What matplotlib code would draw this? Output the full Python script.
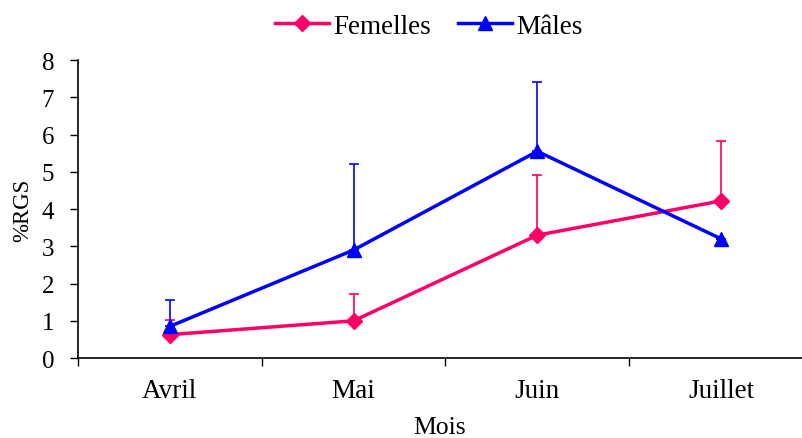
import numpy as np
import matplotlib
matplotlib.use('Agg')
import matplotlib.pyplot as plt

plt.rcParams['font.family'] = ['Liberation Serif', 'DejaVu Serif']

# Data
mois = ['Avril', 'Mai', 'Juin', 'Juillet']
femelles = [0.63, 1.0, 3.3, 4.22]
femelles_err = [0.4, 0.72, 1.62, 1.62]
males = [0.85, 2.9, 5.55, 3.2]
males_err = [0.7, 2.3, 1.85, 0.0]

pink = '#FF0066'
blue = '#0000FF'

fig = plt.figure(figsize=(8.02, 4.39), dpi=100)
ax = fig.add_axes([0.097, 0.182, 0.903, 0.679])

x = np.arange(len(mois))
zeros = np.zeros(len(x))

# upper error bars only
ax.errorbar(x, femelles, yerr=[zeros, femelles_err], fmt='none', ecolor=pink,
            elinewidth=1.2, capsize=3.6, capthick=1.2)
ax.errorbar(x, males, yerr=[zeros, males_err], fmt='none', ecolor=blue,
            elinewidth=1.2, capsize=3.6, capthick=1.2)
ax.plot(x, femelles, color=pink, marker='D', markersize=8.5, linewidth=2.5,
        label='Femelles')
ax.plot(x, males, color=blue, marker='^', markersize=10, linewidth=2.5,
        label='Mâles')

ax.set_xlim(-0.5, 3.44)
ax.set_ylim(0, 8)
ax.set_yticks(range(0, 9))
ax.set_xticks(x)
ax.set_xticklabels(mois)
ax.set_xticks(np.arange(-0.5, 3.0, 1.0), minor=True)
ax.tick_params(axis='x', which='major', length=0, pad=14, labelsize=19.5)
ax.tick_params(axis='x', which='minor', length=6, width=1)
ax.tick_params(axis='y', length=6, width=1, labelsize=18, pad=11)

for s in ['top', 'right']:
    ax.spines[s].set_visible(False)
for s in ['left', 'bottom']:
    ax.spines[s].set_linewidth(1.2)

ax.set_xlabel('Mois', fontsize=18.5, labelpad=10)
ax.set_ylabel('%RGS', fontsize=16.5, labelpad=6)

ax.legend(loc='lower center', bbox_to_anchor=(0.485, 1.035), ncol=2, frameon=False,
          fontsize=19.5, handlelength=2.0, columnspacing=1.0, handletextpad=0.15,
          borderaxespad=0.0)

fig.savefig('out.png', dpi=100)
